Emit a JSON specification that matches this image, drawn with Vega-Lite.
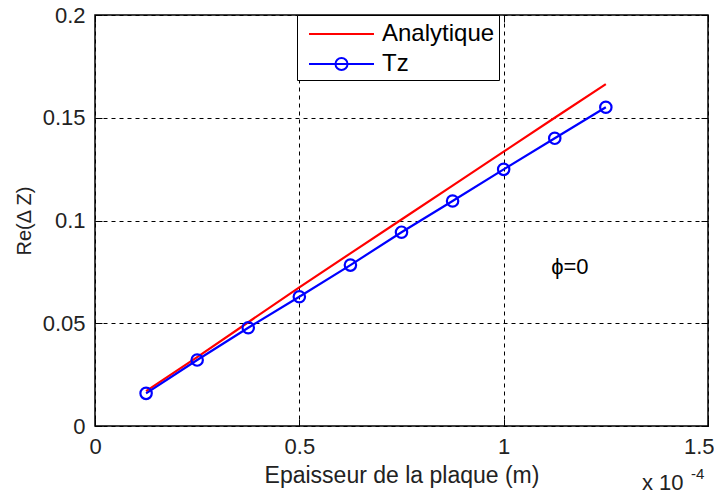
{
  "$schema": "https://vega.github.io/schema/vega-lite/v6.json",
  "width": 613,
  "height": 411,
  "autosize": {"type": "none"},
  "padding": {"left": 95, "top": 15, "right": 6, "bottom": 69},
  "background": "white",
  "config": {
    "font": "Liberation Sans",
    "view": {"stroke": "black", "strokeWidth": 1.5},
    "axis": {
      "domain": false,
      "ticks": true,
      "tickSize": -7,
      "tickColor": "black",
      "tickWidth": 1,
      "grid": true,
      "gridColor": "black",
      "gridDash": [4, 4],
      "gridWidth": 1,
      "gridOpacity": 1,
      "labelFont": "Liberation Sans",
      "labelFontSize": 22,
      "labelColor": "#222",
      "titleFont": "Liberation Sans",
      "titleFontWeight": "normal",
      "titleColor": "#222",
      "labelFlush": false
    }
  },
  "resolve": {"axis": {"x": "independent", "y": "independent"}},
  "datasets": {
    "series": [
      {"series": "Analytique", "x": 0.125, "y": 0.017},
      {"series": "Analytique", "x": 0.25, "y": 0.0335},
      {"series": "Analytique", "x": 0.375, "y": 0.0505},
      {"series": "Analytique", "x": 0.5, "y": 0.0675},
      {"series": "Analytique", "x": 0.625, "y": 0.084},
      {"series": "Analytique", "x": 0.75, "y": 0.1005},
      {"series": "Analytique", "x": 0.875, "y": 0.117},
      {"series": "Analytique", "x": 1.0, "y": 0.1335},
      {"series": "Analytique", "x": 1.125, "y": 0.15},
      {"series": "Analytique", "x": 1.25, "y": 0.1664},
      {"series": "Tz", "x": 0.125, "y": 0.0159},
      {"series": "Tz", "x": 0.25, "y": 0.0321},
      {"series": "Tz", "x": 0.375, "y": 0.0478},
      {"series": "Tz", "x": 0.5, "y": 0.0629},
      {"series": "Tz", "x": 0.625, "y": 0.0783},
      {"series": "Tz", "x": 0.75, "y": 0.0943},
      {"series": "Tz", "x": 0.875, "y": 0.1095},
      {"series": "Tz", "x": 1.0, "y": 0.1249},
      {"series": "Tz", "x": 1.125, "y": 0.14},
      {"series": "Tz", "x": 1.25, "y": 0.1551}
    ],
    "notes": [
      {"t": "ϕ=0", "x": 1.162, "y": 0.0774},
      {"t": "x 10", "x": 1.3385, "y": -0.0311},
      {"t": "-4", "x": 1.4584, "y": -0.0258}
    ]
  },
  "layer": [
    {
      "data": {"name": "series"},
      "mark": {"type": "line", "strokeWidth": 2.2},
      "encoding": {
        "x": {
          "field": "x", "type": "quantitative",
          "scale": {"domain": [0, 1.5], "nice": false},
          "axis": {"values": [0, 0.5, 1, 1.5], "format": "~g", "title": "Epaisseur de la plaque (m)", "titleFontSize": 23, "labelPadding": 17, "titlePadding": 7, "labelFlush": true, "labelFlushOffset": 6}
        },
        "y": {
          "field": "y", "type": "quantitative",
          "scale": {"domain": [0, 0.2], "nice": false},
          "axis": {"values": [0, 0.05, 0.1, 0.15, 0.2], "format": "~g", "title": "Re(Δ Z)", "titleFontSize": 20, "labelPadding": 17, "titlePadding": 8}
        },
        "color": {
          "field": "series", "type": "nominal",
          "scale": {"domain": ["Analytique", "Tz"], "range": ["#ff0000", "#0000ff"]},
          "legend": {
            "title": null,
            "orient": "none",
            "legendX": 202,
            "legendY": 0,
            "padding": 4,
            "strokeColor": "black",
            "fillColor": "white",
            "labelFontSize": 24,
            "labelFont": "Liberation Sans",
            "labelColor": "black",
            "symbolSize": 784,
            "symbolStrokeWidth": 2,
            "symbolFillColor": "transparent",
            "symbolOffset": 25.5,
            "labelOffset": 25.5,
            "rowPadding": 3,
            "symbolType": "M-2.32,0H2.32",
            "encode": {
              "symbols": {
                "update": {
                  "shape": {"signal": "datum.value === 'Tz' ? 'M-2.32,0H2.32M0.43,0A0.43,0.43,0,1,1,-0.43,0A0.43,0.43,0,1,1,0.43,0' : 'M-2.32,0H2.32'"}
                }
              }
            }
          }
        }
      }
    },
    {
      "data": {"name": "series"},
      "transform": [{"filter": "datum.series === 'Tz'"}],
      "mark": {"type": "point", "shape": "circle", "filled": false, "size": 130, "strokeWidth": 2.2, "color": "#0000ff", "opacity": 1},
      "encoding": {
        "x": {"field": "x", "type": "quantitative", "axis": {"orient": "top", "values": [0, 0.5, 1, 1.5], "labels": false, "grid": false, "title": null}},
        "y": {"field": "y", "type": "quantitative", "axis": {"orient": "right", "values": [0, 0.05, 0.1, 0.15, 0.2], "labels": false, "grid": false, "title": null}}
      }
    },
    {
      "data": {"name": "notes"},
      "transform": [{"filter": "datum.t === 'ϕ=0'"}],
      "mark": {"type": "text", "fontSize": 22, "align": "center", "baseline": "middle", "color": "black"},
      "encoding": {
        "x": {"field": "x", "type": "quantitative", "axis": null},
        "y": {"field": "y", "type": "quantitative", "axis": null},
        "text": {"field": "t"}
      }
    },
    {
      "data": {"name": "notes"},
      "transform": [{"filter": "datum.t === 'x 10'"}],
      "mark": {"type": "text", "fontSize": 22, "align": "left", "baseline": "alphabetic", "color": "#222"},
      "encoding": {
        "x": {"field": "x", "type": "quantitative", "axis": null},
        "y": {"field": "y", "type": "quantitative", "axis": null},
        "text": {"field": "t"}
      }
    },
    {
      "data": {"name": "notes"},
      "transform": [{"filter": "datum.t === '-4'"}],
      "mark": {"type": "text", "fontSize": 15, "align": "left", "baseline": "alphabetic", "color": "#222"},
      "encoding": {
        "x": {"field": "x", "type": "quantitative", "axis": null},
        "y": {"field": "y", "type": "quantitative", "axis": null},
        "text": {"field": "t"}
      }
    }
  ]
}
